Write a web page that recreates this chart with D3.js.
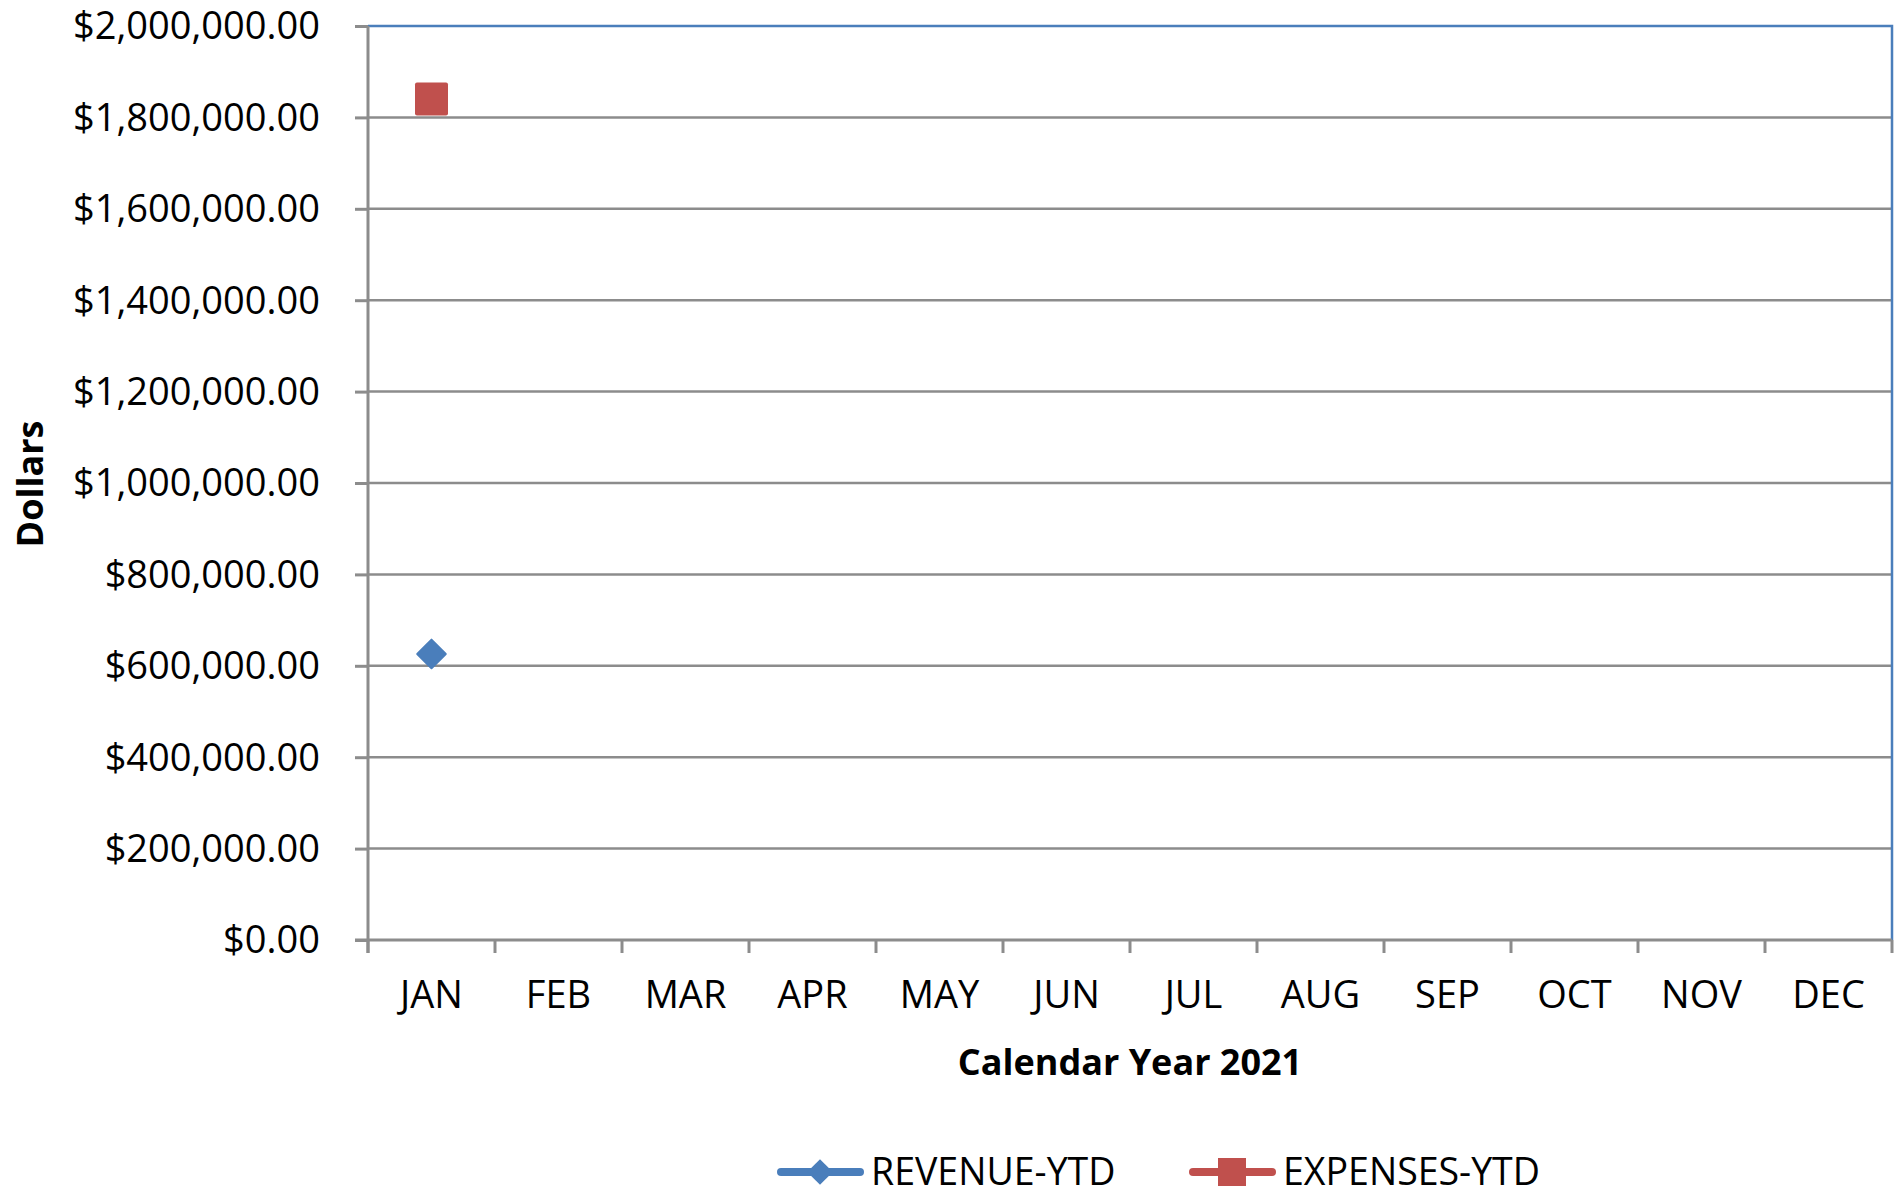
<!DOCTYPE html>
<html>
<head>
<meta charset="utf-8">
<script src="https://cdn.jsdelivr.net/npm/d3@7"></script>
<style>
  html, body { margin: 0; padding: 0; background: #fff; }
  svg { display: block; }
  text { font-family: "Open Sans", "Liberation Sans", sans-serif; fill: #000; }
</style>
</head>
<body>
<svg id="chart" width="1903" height="1195"></svg>
<script>
const months = ["JAN","FEB","MAR","APR","MAY","JUN","JUL","AUG","SEP","OCT","NOV","DEC"];
const revenueYTD = [626000, null, null, null, null, null, null, null, null, null, null, null];
const expensesYTD = [1840000, null, null, null, null, null, null, null, null, null, null, null];
const yTickValues = [0, 200000, 400000, 600000, 800000, 1000000, 1200000, 1400000, 1600000, 1800000, 2000000];
const seriesNames = ["REVENUE-YTD", "EXPENSES-YTD"];
const xTitle = "Calendar Year 2021";
const yTitle = "Dollars";

const W = 1903, H = 1195;
const m = { left: 368, right: 1892, top: 26, bottom: 940 };
const blue = "#4A7EBB", red = "#C0504D", grid = "#8C8C8C";

const svg = d3.select("#chart");

const x = d3.scaleBand().domain(months).range([m.left, m.right]).padding(0);
const y = d3.scaleLinear().domain([0, 2000000]).range([m.bottom, m.top]);
const fmt = v => "$" + d3.format(",.2f")(v);

// gridlines
svg.append("g").selectAll("line").data(yTickValues.filter(v => v > 0 && v < 2000000)).join("line")
  .attr("x1", m.left).attr("x2", m.right)
  .attr("y1", d => y(d)).attr("y2", d => y(d))
  .attr("stroke", grid).attr("stroke-width", 2.5);

// plot border top/right (blue)
svg.append("path")
  .attr("d", `M${m.left},${m.top}H${m.right}V${m.bottom}`)
  .attr("fill", "none").attr("stroke", blue).attr("stroke-width", 2.5);

// Y axis
const yAxis = svg.append("g").attr("transform", `translate(${m.left},0)`)
  .call(d3.axisLeft(y).tickValues(yTickValues).tickFormat(fmt).tickSize(13).tickPadding(35));
yAxis.select(".domain").attr("stroke", grid).attr("stroke-width", 3)
  .attr("d", `M0,${m.top}V${m.bottom + 13}`);
yAxis.selectAll(".tick line").attr("stroke", grid).attr("stroke-width", 3);
yAxis.selectAll(".tick text").attr("font-size", 38).attr("font-family", "'Open Sans', sans-serif")
  .attr("fill", "#000").attr("dy", "0.34em");

// X axis with boundary ticks
const xAxis = svg.append("g").attr("transform", `translate(0,${m.bottom})`)
  .call(d3.axisBottom(x).tickSize(0));
xAxis.select(".domain").attr("stroke", grid).attr("stroke-width", 3)
  .attr("d", `M${m.left - 13},0H${m.right}`);
xAxis.selectAll(".tick text").attr("font-size", 38).attr("font-family", "'Open Sans', sans-serif")
  .attr("fill", "#000").attr("dy", "0.71em").attr("y", 41);
const boundaries = months.map(d => x(d)).concat([m.right]);
xAxis.append("g").selectAll("line").data(boundaries).join("line")
  .attr("x1", d => d).attr("x2", d => d).attr("y1", 0).attr("y2", 13)
  .attr("stroke", grid).attr("stroke-width", 3);

// axis titles
svg.append("text").attr("x", (m.left + m.right) / 2).attr("y", 1075)
  .attr("text-anchor", "middle").attr("font-size", 36).attr("font-weight", "bold").text(xTitle);
svg.append("text").attr("transform", `translate(43,${(m.top + m.bottom) / 2 + 1}) rotate(-90)`)
  .attr("text-anchor", "middle").attr("font-size", 36).attr("font-weight", "bold").text(yTitle);

// series lines
const line = d3.line().defined(d => d != null)
  .x((d, i) => x(months[i]) + x.bandwidth() / 2).y(d => y(d));
svg.append("path").datum(revenueYTD).attr("d", line).attr("fill", "none").attr("stroke", blue).attr("stroke-width", 8);
svg.append("path").datum(expensesYTD).attr("d", line).attr("fill", "none").attr("stroke", red).attr("stroke-width", 8);

// markers
const cx = i => x(months[i]) + x.bandwidth() / 2;
svg.append("g").selectAll("path").data(revenueYTD.map((v, i) => ({ v, i })).filter(d => d.v != null)).join("path")
  .attr("d", d3.symbol(d3.symbolDiamond2, 520)())
  .attr("transform", d => `translate(${cx(d.i)},${y(d.v)})`)
  .attr("fill", blue).attr("stroke", blue).attr("stroke-width", 2).attr("stroke-linejoin", "round");
svg.append("g").selectAll("rect").data(expensesYTD.map((v, i) => ({ v, i })).filter(d => d.v != null)).join("rect")
  .attr("x", d => cx(d.i) - 16.5).attr("y", d => y(d.v) - 16.5)
  .attr("width", 33).attr("height", 33).attr("rx", 2)
  .attr("fill", red);

// legend
const ly = 1172;
const leg = svg.append("g");
const legItems = [
  { name: seriesNames[0], color: blue, x0: 777, type: "diamond" },
  { name: seriesNames[1], color: red, x0: 1189, type: "square" }
];
legItems.forEach(it => {
  const g = leg.append("g");
  g.append("line").attr("x1", it.x0 + 4).attr("x2", it.x0 + 83).attr("y1", ly).attr("y2", ly)
    .attr("stroke", it.color).attr("stroke-width", 8).attr("stroke-linecap", "round");
  const c = it.x0 + 43;
  if (it.type === "diamond") {
    g.append("path").attr("d", d3.symbol(d3.symbolDiamond2, 420)())
      .attr("transform", `translate(${c},${ly})`).attr("fill", it.color);
  } else {
    g.append("rect").attr("x", c - 14).attr("y", ly - 14).attr("width", 28).attr("height", 28).attr("fill", it.color);
  }
  g.append("text").attr("x", it.x0 + 94).attr("y", ly).attr("dy", "0.35em")
    .attr("font-size", 37.5).text(it.name);
});
</script>
</body>
</html>
